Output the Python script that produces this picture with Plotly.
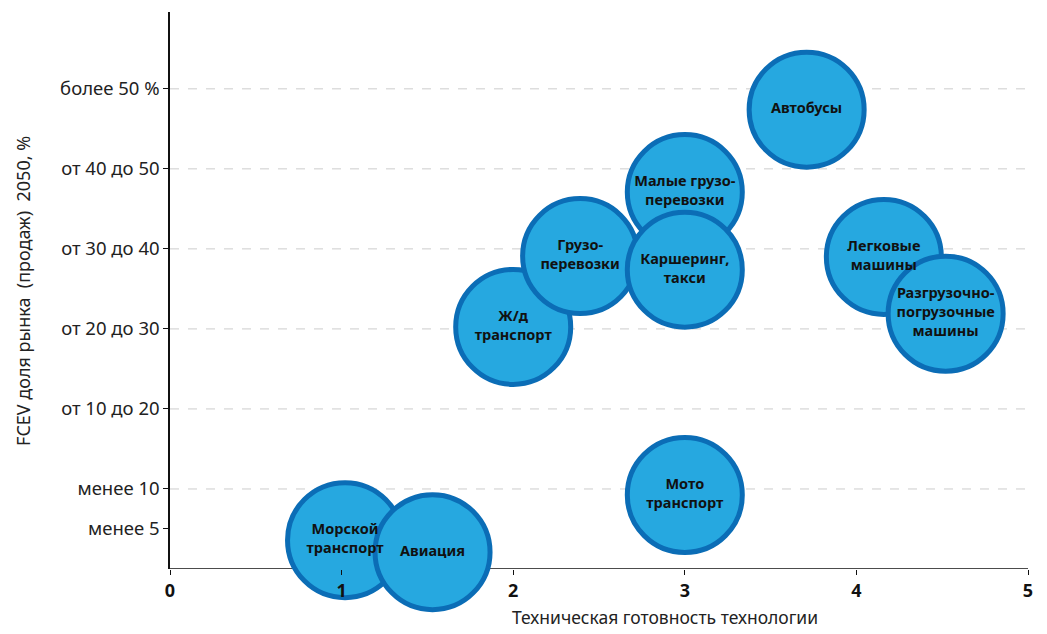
import plotly.graph_objects as go

# Transport segments: readiness of technology (x) vs. FCEV market share 2050 (y)
segments = [
    "Морской<br>транспорт",
    "Авиация",
    "Мото<br>транспорт",
    "Ж/д<br>транспорт",
    "Грузо-<br>перевозки",
    "Малые грузо-<br>перевозки",
    "Каршеринг,<br>такси",
    "Автобусы",
    "Легковые<br>машины",
    "Разгрузочно-<br>погрузочные<br>машины",
]
readiness = [1.02, 1.53, 3.0, 2.0, 2.39, 3.0, 3.0, 3.71, 4.16, 4.52]
market_share = [3.6, 2.1, 9.25, 30.25, 39.1, 47.1, 37.4, 57.4, 39.0, 31.9]

y_tick_vals = [5, 10, 20, 30, 40, 50, 60]
y_tick_text = ["менее 5", "менее 10", "от 10 до 20", "от 20 до 30",
               "от 30 до 40", "от 40 до 50", "более 50 %"]
grid_vals = [10, 20, 30, 40, 50, 60]
x_tick_vals = [0, 1, 2, 3, 4, 5]

FONT = "Noto Sans"

fig = go.Figure()

fig.add_trace(go.Scatter(
    x=readiness,
    y=market_share,
    mode="markers+text",
    text=segments,
    textposition="middle center",
    textfont=dict(family=FONT, size=14.5, color="#111111", weight="bold"),
    marker=dict(size=115, color="#26A8E0",
                line=dict(color="#0B6DB6", width=5), opacity=1),
    cliponaxis=False,
    hoverinfo="skip",
    showlegend=False,
))

# dashed horizontal guides (none for the lowest category)
for gv in grid_vals:
    fig.add_shape(type="line", xref="x", yref="y", x0=0, x1=5, y0=gv, y1=gv,
                  line=dict(color="#CCCCCC", width=1, dash="dash"), layer="below")

# x-axis baseline, kept underneath the bubbles
fig.add_shape(type="line", xref="x", yref="y", x0=0, x1=5, y0=0, y1=0,
              line=dict(color="#111111", width=1.5), layer="below")

fig.update_layout(
    width=1047, height=634,
    margin=dict(l=170, r=19, t=12, b=65),
    paper_bgcolor="white", plot_bgcolor="white",
    font=dict(family=FONT, size=18, color="#222222"),
    xaxis=dict(
        range=[0, 5], tickvals=x_tick_vals, ticktext=[str(v) for v in x_tick_vals],
        showgrid=False, zeroline=False, showline=False,
        ticks="outside", ticklen=5, tickcolor="#111111",
        tickfont=dict(family=FONT, size=18, color="#111111", weight="bold"),
    ),
    yaxis=dict(
        range=[0, 69.6], tickvals=y_tick_vals, ticktext=y_tick_text,
        showgrid=False, zeroline=False, showline=True, linecolor="#111111", linewidth=1.5,
        ticks="outside", ticklen=5, tickcolor="#111111",
        tickfont=dict(family=FONT, size=18.5, color="#222222"),
        layer="below traces",
    ),
    annotations=[
        dict(text="Техническая готовность технологии", xref="paper", yref="paper",
             x=(665 - 170) / 858, y=-0.1113, xanchor="center", yanchor="bottom",
             showarrow=False, font=dict(family=FONT, size=17.5, color="#222222")),
        dict(text="FCEV доля рынка  (продаж)  2050, %", xref="paper", yref="paper",
             x=-0.172, y=0.5, xanchor="center", yanchor="middle", textangle=-90,
             showarrow=False, font=dict(family=FONT, size=18, color="#222222")),
    ],
)

fig.write_html("out.html")
